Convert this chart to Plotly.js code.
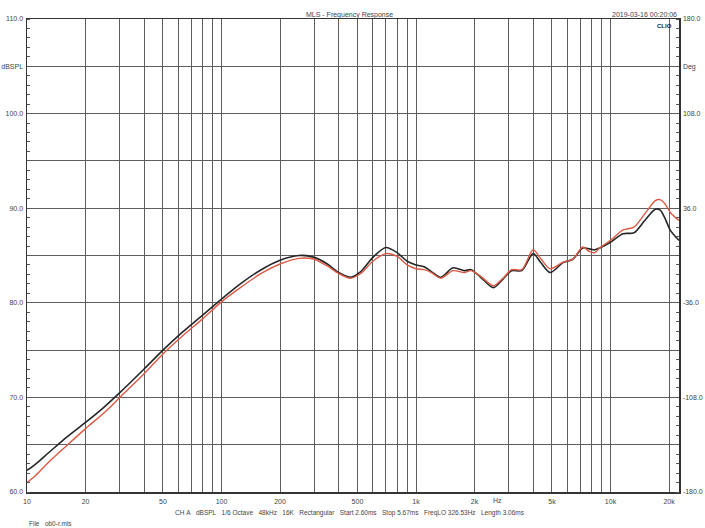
<!DOCTYPE html>
<html>
<head>
<meta charset="utf-8">
<script src="https://cdn.plot.ly/plotly-3.0.1.min.js"></script>
<style>
  html, body { margin: 0; padding: 0; background: #fff; }
  #chart { width: 705px; height: 528px; }
</style>
</head>
<body>
<div id="chart"></div>
<script>
// frequency response
var freqs = [10, 11, 13, 16, 20, 25, 30, 40, 50, 63, 80, 100, 125, 160, 200, 250, 300, 350, 400, 460,
             520, 600, 700, 800, 900, 1000, 1100, 1200, 1340, 1550, 1770, 1920, 2150, 2500, 2800, 3100,
             3500, 4000, 4400, 4900, 5700, 6400, 7200, 7800, 8300, 8800, 10000, 11600, 13200, 15000,
             17000, 18000, 19000, 20400, 22500];
var levelBlack = [62.3, 62.9, 64.2, 65.8, 67.35, 69.0, 70.5, 73.0, 75.0, 76.9, 78.7, 80.4, 82.0, 83.5, 84.5, 85.0, 84.8, 84.1, 83.2, 82.7,
                  83.3, 84.8, 85.85, 85.3, 84.4, 84.0, 83.8, 83.3, 82.7, 83.7, 83.4, 83.5, 82.7, 81.6, 82.5, 83.4,
                  83.4, 85.2, 84.2, 83.2, 84.25, 84.6, 85.8, 85.7, 85.6, 85.8, 86.4, 87.3, 87.4, 88.7,
                  89.9, 89.8, 89.0, 87.6, 86.6];
var levelRed = [61.0, 61.7, 63.2, 64.9, 66.7, 68.4, 70.0, 72.5, 74.6, 76.5, 78.3, 80.1, 81.6, 83.1, 84.1, 84.7, 84.6, 83.9, 83.1, 82.6,
                83.1, 84.4, 85.2, 84.9, 84.0, 83.6, 83.5, 83.2, 82.6, 83.4, 83.2, 83.4, 82.8, 81.8, 82.6, 83.5,
                83.5, 85.6, 84.6, 83.6, 84.3, 84.6, 85.9, 85.4, 85.3, 85.8, 86.6, 87.7, 88.0, 89.4,
                90.8, 90.9, 90.5, 89.5, 88.7];

var gridFreqs = [10, 20, 30, 40, 50, 60, 70, 80, 90, 100, 200, 300, 400, 500, 600, 700, 800, 900,
                 1000, 2000, 3000, 4000, 5000, 6000, 7000, 8000, 9000, 10000, 20000];
var labeledFreqs = {10: "10", 20: "20", 50: "50", 100: "100", 200: "200", 500: "500",
                    1000: "1k", 2000: "2k", 5000: "5k", 10000: "10k", 20000: "20k"};
var xText = gridFreqs.map(function (f) { return labeledFreqs[f] || ""; });

var dbVals = [60, 65, 70, 75, 80, 85, 90, 95, 100, 105, 110];
var dbText = ["60.0", "", "70.0", "", "80.0", "", "90.0", "", "100.0", "dBSPL", "110.0"];
var degVals = [-180, -108, -36, 36, 108, 144, 180];
var degText = ["-180.0", "-108.0", "-36.0", "36.0", "108.0", "Deg", "180.0"];

var infoLine = "CH A   dBSPL   1/6 Octave   48kHz   16K   Rectangular   Start 2.60ms   Stop 5.67ms   FreqLO 326.53Hz   Length 3.06ms";

var tickFont = {family: "Liberation Sans, Arial, sans-serif", size: 7, color: "#444"};

var data = [
  {
    x: freqs, y: levelBlack, type: "scatter", mode: "lines",
    line: {color: "#262626", width: 1.6, shape: "spline", smoothing: 0.8},
    hoverinfo: "skip"
  },
  {
    x: freqs, y: levelRed, type: "scatter", mode: "lines",
    line: {color: "#dc5a44", width: 1.4, shape: "spline", smoothing: 0.8},
    hoverinfo: "skip"
  },
  {
    // empty phase trace so the Deg axis is drawn
    x: [freqs[0]], y: [0], yaxis: "y2", type: "scatter", mode: "markers",
    marker: {opacity: 0}, hoverinfo: "skip"
  }
];

var layout = {
  width: 705,
  height: 528,
  showlegend: false,
  paper_bgcolor: "#fff",
  plot_bgcolor: "#fff",
  margin: {l: 27, r: 26, t: 19, b: 36, pad: 0},
  xaxis: {
    type: "log",
    range: [1, Math.log10(22500)],
    tickmode: "array",
    tickvals: gridFreqs,
    ticktext: xText,
    ticks: "",
    showgrid: true,
    gridcolor: "#5e5e5e",
    gridwidth: 1,
    showline: true,
    linecolor: "#333",
    linewidth: 1.5,
    mirror: true,
    zeroline: false,
    tickfont: tickFont,
    ticklabelstandoff: 2,
    fixedrange: true
  },
  yaxis: {
    range: [60, 110],
    tickmode: "array",
    tickvals: dbVals,
    ticktext: dbText,
    ticks: "",
    showgrid: true,
    gridcolor: "#5e5e5e",
    gridwidth: 1,
    showline: true,
    linecolor: "#333",
    linewidth: 1.5,
    zeroline: false,
    tickfont: tickFont,
    ticklabelstandoff: 1,
    minor: {tickmode: "linear", tick0: 60, dtick: 1, ticks: "inside", ticklen: 3, tickcolor: "#555", showgrid: false},
    fixedrange: true
  },
  yaxis2: {
    overlaying: "y",
    side: "right",
    range: [-180, 180],
    tickmode: "array",
    tickvals: degVals,
    ticktext: degText,
    ticks: "",
    showgrid: false,
    showline: true,
    linecolor: "#333",
    linewidth: 1.5,
    zeroline: false,
    tickfont: tickFont,
    ticklabelstandoff: 1,
    minor: {tickmode: "linear", tick0: -180, dtick: 7.2, ticks: "inside", ticklen: 3, tickcolor: "#555", showgrid: false},
    fixedrange: true
  },
  annotations: [
    {text: "MLS - Frequency Response", xref: "paper", yref: "paper", x: 0.495, y: 1, yshift: 10,
     showarrow: false, font: {family: "Liberation Sans, Arial, sans-serif", size: 7, color: "#444"}},
    {text: "2019-03-16 00:20:06", xref: "paper", yref: "paper", x: 1, xanchor: "right", y: 1, yshift: 10,
     showarrow: false, font: {family: "Liberation Sans, Arial, sans-serif", size: 7, color: "#444"}},
    {text: "<b>CLIO</b>", xref: "paper", yref: "paper", x: 0.993, xanchor: "right", y: 0.995, yanchor: "top",
     showarrow: false, font: {family: "Liberation Sans, Arial, sans-serif", size: 6, color: "#222"}},
    {text: "Hz", xref: "x", yref: "paper", x: Math.log10(2630), y: 0, yanchor: "top", yshift: -3,
     showarrow: false, font: tickFont},
    {text: infoLine.replace(/ /g, "&nbsp;"), xref: "paper", yref: "paper", x: 0.495, y: 0, yanchor: "top", yshift: -15,
     showarrow: false, font: {family: "Liberation Sans, Arial, sans-serif", size: 6.5, color: "#444"}},
    {text: "File&nbsp;&nbsp;&nbsp;ob0-r.mls", xref: "paper", yref: "paper", x: 0, xanchor: "left", y: 0, yanchor: "top", yshift: -26,
     showarrow: false, font: {family: "Liberation Sans, Arial, sans-serif", size: 6.5, color: "#444"}}
  ]
};

Plotly.newPlot("chart", data, layout, {displayModeBar: false, staticPlot: true});
</script>
</body>
</html>
